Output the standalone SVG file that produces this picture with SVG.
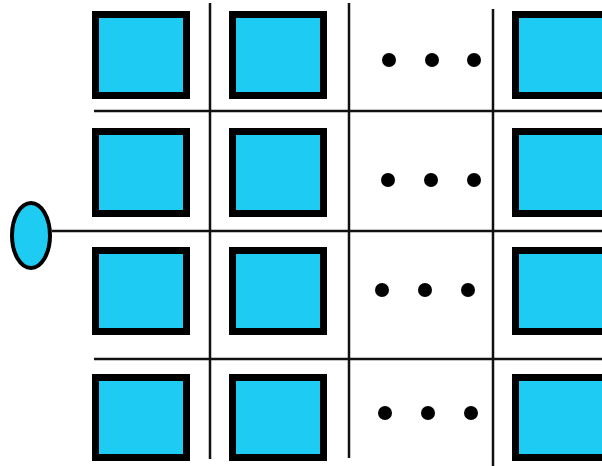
<svg xmlns="http://www.w3.org/2000/svg" width="602" height="466" viewBox="0 0 602 466">
<style>
.box{fill:#1ecbf3;stroke:#000;stroke-width:7}
.ln{stroke:#111;stroke-width:2.5;fill:none}
.dot{fill:#000}
</style>
<rect width="602" height="466" fill="#fff"/>
<g id="connectors">
<line class="ln" x1="94" y1="111" x2="602" y2="111"/>
<line class="ln" x1="52" y1="231" x2="602" y2="231"/>
<line class="ln" x1="94" y1="359" x2="602" y2="359"/>
<line class="ln" x1="210" y1="3" x2="210" y2="459"/>
<line class="ln" x1="349" y1="3" x2="349" y2="458"/>
<line class="ln" x1="493" y1="9" x2="493" y2="466"/>
</g>
<g id="port"><ellipse cx="31" cy="235.5" rx="19" ry="32.5" fill="#1ecbf3" stroke="#000" stroke-width="4"/></g>
<g id="r1c1"><rect class="box" x="95.5" y="14.5" width="91" height="81"/></g>
<g id="r1c2"><rect class="box" x="232.5" y="14.5" width="91" height="81"/></g>
<g id="r1dots"><circle class="dot" cx="389" cy="60" r="7"/><circle class="dot" cx="432" cy="60" r="7"/><circle class="dot" cx="474" cy="60" r="7"/></g>
<g id="r1c4"><rect class="box" x="515.5" y="14.5" width="95" height="81"/></g>
<g id="r2c1"><rect class="box" x="95.5" y="131.5" width="91" height="82"/></g>
<g id="r2c2"><rect class="box" x="232.5" y="131.5" width="91" height="82"/></g>
<g id="r2dots"><circle class="dot" cx="388" cy="180" r="7"/><circle class="dot" cx="431" cy="180" r="7"/><circle class="dot" cx="474" cy="180" r="7"/></g>
<g id="r2c4"><rect class="box" x="515.5" y="131.5" width="95" height="82"/></g>
<g id="r3c1"><rect class="box" x="95.5" y="250.5" width="91" height="81"/></g>
<g id="r3c2"><rect class="box" x="232.5" y="250.5" width="91" height="81"/></g>
<g id="r3dots"><circle class="dot" cx="382" cy="290" r="7"/><circle class="dot" cx="425" cy="290" r="7"/><circle class="dot" cx="468" cy="290" r="7"/></g>
<g id="r3c4"><rect class="box" x="515.5" y="250.5" width="95" height="81"/></g>
<g id="r4c1"><rect class="box" x="95.5" y="377.5" width="91" height="80"/></g>
<g id="r4c2"><rect class="box" x="232.5" y="377.5" width="91" height="80"/></g>
<g id="r4dots"><circle class="dot" cx="385" cy="413" r="7"/><circle class="dot" cx="428" cy="413" r="7"/><circle class="dot" cx="471" cy="413" r="7"/></g>
<g id="r4c4"><rect class="box" x="515.5" y="377.5" width="95" height="80"/></g>
</svg>
